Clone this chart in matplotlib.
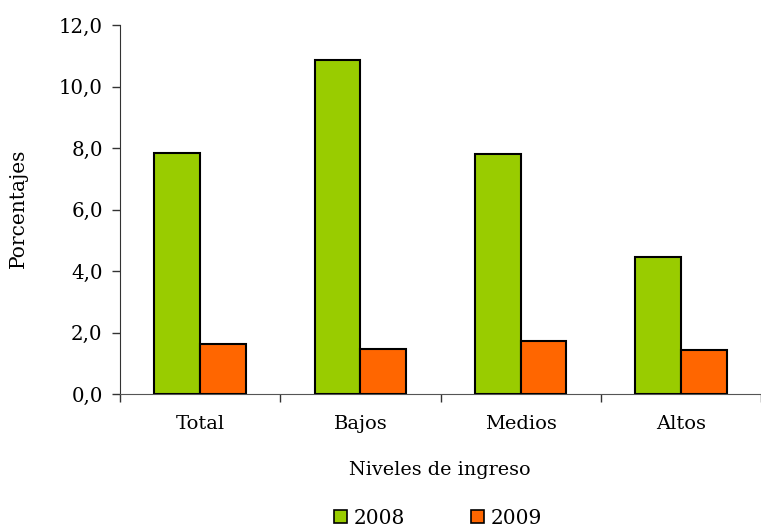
import numpy as np
import matplotlib
matplotlib.use('Agg')
import matplotlib.pyplot as plt
from matplotlib.patches import Patch

# Datos: porcentaje por nivel de ingreso
niveles = ['Total', 'Bajos', 'Medios', 'Altos']
valores_2008 = [7.83, 10.86, 7.81, 4.45]
valores_2009 = [1.62, 1.45, 1.72, 1.43]
anios = ['2008', '2009']
y_ticks = [0, 2, 4, 6, 8, 10, 12]

verde = '#99CC00'
naranja = '#FF6600'

plt.rcParams['font.family'] = ['DejaVu Serif']

fig = plt.figure(figsize=(7.61, 5.30), dpi=100)
ax = fig.add_axes([120 / 761, 136 / 530, 641 / 761, 369 / 530])

x = np.arange(len(niveles))
ancho = 0.286
ax.bar(x - ancho / 2, valores_2008, ancho, color=verde, edgecolor='black', linewidth=1.5, zorder=3)
ax.bar(x + ancho / 2, valores_2009, ancho, color=naranja, edgecolor='black', linewidth=1.5, zorder=3)

ax.set_xlim(-0.5, 3.48)
ax.set_ylim(0, 12)
ax.set_yticks(y_ticks)
ax.set_yticklabels([f'{v:.1f}'.replace('.', ',') for v in y_ticks], fontsize=14.2)

ax.set_xticks(x)
ax.set_xticklabels(niveles, fontsize=14)
ax.set_xticks(np.arange(-0.5, 4.0, 1.0), minor=True)
ax.tick_params(axis='x', which='major', length=0, pad=15)
ax.tick_params(axis='x', which='minor', length=6, width=1, color='#333333', direction='out')
ax.tick_params(axis='y', length=6, width=1, color='#333333', pad=6.5)

for lado in ['top', 'right']:
    ax.spines[lado].set_visible(False)
ax.spines['left'].set_color('#333333')
ax.spines['bottom'].set_color('#555555')

fig.text(18 / 761, 1 - 208 / 530, 'Porcentajes', rotation=90, ha='center', va='center', fontsize=14.5)
fig.text(440 / 761, 1 - 470 / 530, 'Niveles de ingreso', ha='center', va='center', fontsize=13.8)

handles = [Patch(facecolor=verde, edgecolor='black', linewidth=1.2),
           Patch(facecolor=naranja, edgecolor='black', linewidth=1.2)]
fig.legend(handles, anios, loc='center', bbox_to_anchor=(438 / 761, 1 - 518 / 530), ncol=2,
           frameon=False, fontsize=14.5, handlelength=0.65, handleheight=0.65,
           handletextpad=0.3, columnspacing=3.3)

fig.savefig('out.png', dpi=100)
